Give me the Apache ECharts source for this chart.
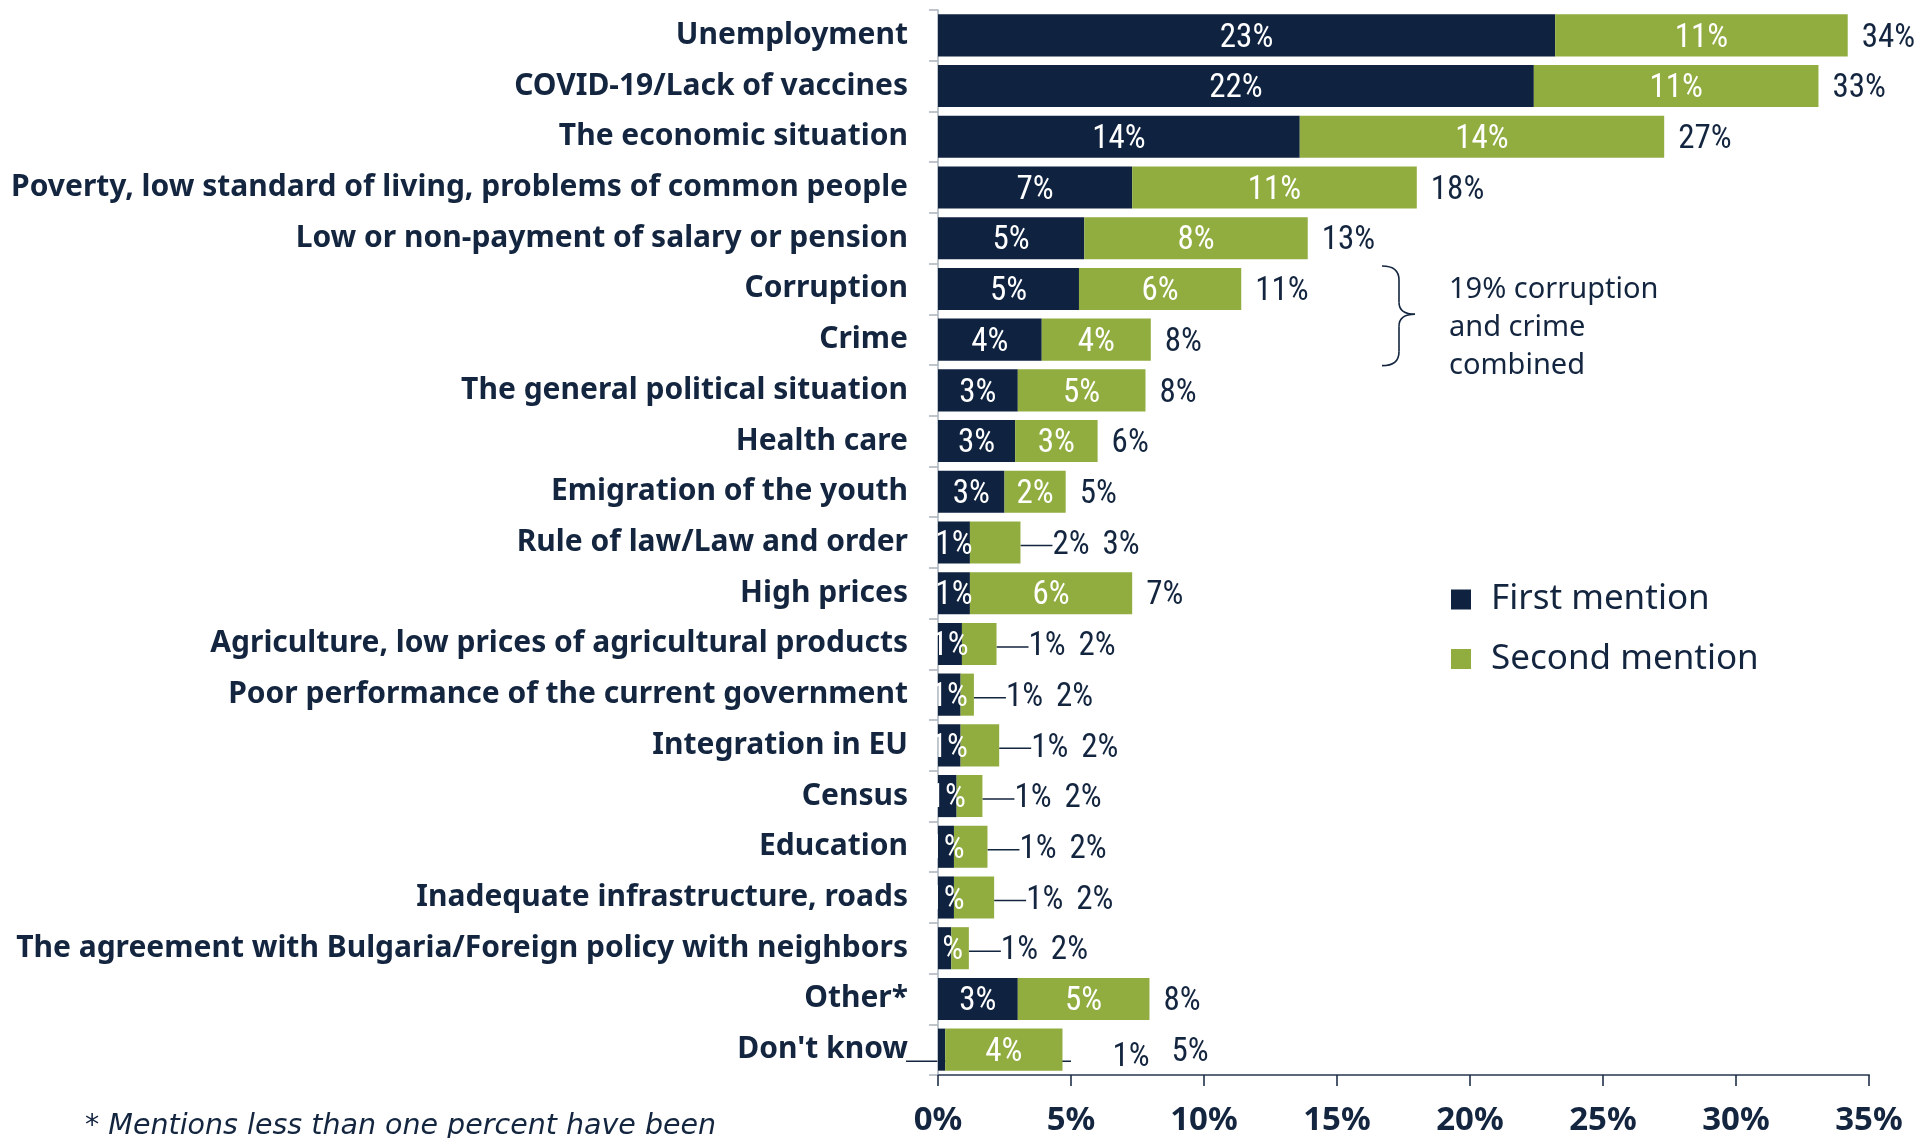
<!DOCTYPE html>
<html>
<head>
<meta charset="utf-8">
<script src="https://cdn.jsdelivr.net/npm/echarts@6/dist/echarts.min.js"></script>
<style>
html,body{margin:0;padding:0;background:#ffffff;}
#chart{width:1917px;height:1138px;}
</style>
</head>
<body>
<div id="chart"></div>
<script>
// ---------------- DATA ----------------
const categories = [
  'Unemployment',
  'COVID-19/Lack of vaccines',
  'The economic situation',
  'Poverty, low standard of living, problems of common people',
  'Low or non-payment of salary or pension',
  'Corruption',
  'Crime',
  'The general political situation',
  'Health care',
  'Emigration of the youth',
  'Rule of law/Law and order',
  'High prices',
  'Agriculture, low prices of agricultural products',
  'Poor performance of the current government',
  'Integration in EU',
  'Census',
  'Education',
  'Inadequate infrastructure, roads',
  'The agreement with Bulgaria/Foreign policy with neighbors',
  'Other*',
  "Don't know"
];
const firstMention  = [23.2, 22.4, 13.6, 7.3, 5.5, 5.3, 3.9, 3.0, 2.9, 2.5, 1.2, 1.2, 0.9, 0.85, 0.85, 0.7, 0.6, 0.6, 0.5, 3.0, 0.27];
const secondMention = [11.0, 10.7, 13.7, 10.7, 8.4, 6.1, 4.1, 4.8, 3.1, 2.3, 1.9, 6.1, 1.3, 0.5, 1.45, 0.97, 1.26, 1.51, 0.66, 4.95, 4.41];
const firstLabels  = ['23%','22%','14%','7%','5%','5%','4%','3%','3%','3%','1%','1%','1%','1%','1%','1%','1%','1%','1%','3%','1%'];
const secondLabels = ['11%','11%','14%','11%','8%','6%','4%','5%','3%','2%','2%','6%','1%','1%','1%','1%','1%','1%','1%','5%','4%'];
const totalLabels  = ['34%','33%','27%','18%','13%','11%','8%','8%','6%','5%','3%','7%','2%','2%','2%','2%','2%','2%','2%','8%','5%'];
const seriesNames = ['First mention', 'Second mention'];
const xMin = 0, xMax = 35, xStep = 5;
const noteText = '19% corruption\nand crime\ncombined';
const footText = '* Mentions less than one percent have been';

// ---------------- STYLE ----------------
const NAVY = '#0f2340', GREEN = '#91ad40', TEXT = '#13253f';
const NUM_FONT = '"Liberation Sans Narrow","Roboto Condensed","Roboto",sans-serif';
const LAB_FONT = '"Noto Sans",sans-serif';
const GRID = {left: 938, right: 48, top: 10, bottom: 63};
const ppu = (1917 - GRID.left - GRID.right) / (xMax - xMin);

const totalVals = firstMention.map((v, i) => +(v + secondMention[i]).toFixed(2));
const secOut = i => secondMention[i] < 2;
const firstOut = i => firstMention[i] < 0.4;

const firstData = firstMention.map((v, i) => firstOut(i)
  ? {value: v, label: {position: 'right', distance: (totalVals[i] - v) * ppu + 50, offset: [0, 8], color: TEXT}}
  : v);
const secondData = secondMention.map((v, i) => secOut(i)
  ? {value: v, label: {position: 'right', distance: 32, color: TEXT}, labelLine: {show: true}}
  : v);
const totalData = totalVals.map((v, i) => ({
  value: v,
  label: {distance: firstOut(i) ? 109 : (secOut(i) ? 82 : 14)}
}));

const chart = echarts.init(document.getElementById('chart'), null, {renderer: 'canvas'});

const numLabel = {
  show: true, fontFamily: NUM_FONT, fontSize: 33, offset: [0, 3]
};

const option = {
  animation: false,
  backgroundColor: '#ffffff',
  grid: GRID,
  legend: {
    data: seriesNames,
    orient: 'vertical',
    left: 1451, top: 582,
    padding: 0,
    itemWidth: 20, itemHeight: 20, itemGap: 24.5,
    icon: 'rect',
    textStyle: {color: TEXT, fontSize: 35, fontFamily: LAB_FONT, lineHeight: 20, padding: [0, 0, 0, 15]}
  },
  xAxis: {
    type: 'value', min: xMin, max: xMax, interval: xStep,
    axisLine: {show: true, lineStyle: {color: '#5b6879', width: 2}},
    axisTick: {show: true, length: 11, lineStyle: {color: TEXT, width: 1.5}},
    splitLine: {show: false},
    axisLabel: {formatter: '{value}%', color: TEXT, fontSize: 33, fontWeight: 'bold', fontFamily: LAB_FONT, margin: 29}
  },
  yAxis: {
    type: 'category', inverse: true, data: categories,
    axisLine: {show: true, lineStyle: {color: '#aab2bb', width: 1.5}},
    axisTick: {show: true, length: 9, lineStyle: {color: '#aab2bb', width: 1.5}},
    axisLabel: {color: TEXT, fontSize: 30, fontWeight: 'bold', fontFamily: LAB_FONT, margin: 30, padding: [9, 0, 0, 0]}
  },
  series: [
    {
      name: seriesNames[0], type: 'bar', stack: 'm', data: firstData,
      barCategoryGap: '17%', barGap: '-100%',
      itemStyle: {color: NAVY},
      label: Object.assign({}, numLabel, {position: 'inside', color: '#ffffff', formatter: p => firstLabels[p.dataIndex]})
    },
    {
      name: seriesNames[1], type: 'bar', stack: 'm', data: secondData,
      barCategoryGap: '17%', barGap: '-100%',
      itemStyle: {color: GREEN},
      label: Object.assign({}, numLabel, {position: 'inside', color: '#ffffff', formatter: p => secondLabels[p.dataIndex]}),
      labelLine: {show: false, lineStyle: {color: TEXT, width: 1.5}}
    },
    {
      name: 'Total', type: 'bar', data: totalData, silent: true, z: 1,
      barCategoryGap: '17%', barGap: '-100%',
      itemStyle: {color: 'rgba(0,0,0,0)'},
      label: Object.assign({}, numLabel, {position: 'right', color: TEXT, formatter: p => totalLabels[p.dataIndex]})
    }
  ]
};
chart.setOption(option);

// ---------------- ANNOTATIONS ----------------
const yC = i => chart.convertToPixel({yAxisIndex: 0}, categories[i]);
const xP = v => chart.convertToPixel({xAxisIndex: 0}, v);
const yTop = yC(5) - 23, yBot = yC(6) + 26, yMid = (yC(5) + yC(6)) / 2;
const x0 = 1382, xv = 1399, xp = 1415;
const st = {stroke: TEXT, lineWidth: 1.6, fill: null};
chart.setOption({
  graphic: [
    {type: 'bezierCurve', shape: {x1: x0, y1: yTop, x2: xv, y2: yTop + 14, cpx1: xv, cpy1: yTop}, style: st},
    {type: 'line', shape: {x1: xv, y1: yTop + 14, x2: xv, y2: yMid - 12}, style: st},
    {type: 'bezierCurve', shape: {x1: xv, y1: yMid - 12, x2: xp, y2: yMid, cpx1: xv, cpy1: yMid}, style: st},
    {type: 'bezierCurve', shape: {x1: xp, y1: yMid, x2: xv, y2: yMid + 12, cpx1: xv, cpy1: yMid}, style: st},
    {type: 'line', shape: {x1: xv, y1: yMid + 12, x2: xv, y2: yBot - 14}, style: st},
    {type: 'bezierCurve', shape: {x1: xv, y1: yBot - 14, x2: x0, y2: yBot, cpx1: xv, cpy1: yBot}, style: st},
    {type: 'text', x: 1449, y: yC(5) - 18, style: {text: noteText, fill: TEXT, fontSize: 29, fontFamily: LAB_FONT, lineHeight: 38, verticalAlign: 'top', align: 'left'}},
    {type: 'line', shape: {x1: xP(0) - 32, y1: yC(20) + 11.7, x2: xP(5), y2: yC(20) + 11.7}, style: {stroke: TEXT, lineWidth: 1.5}},
    {type: 'text', x: 85, y: 1112, style: {text: footText, fill: TEXT, fontSize: 28.5, fontStyle: 'italic', fontFamily: '"DejaVu Sans",sans-serif', verticalAlign: 'top', align: 'left'}}
  ]
});
</script>
</body>
</html>
